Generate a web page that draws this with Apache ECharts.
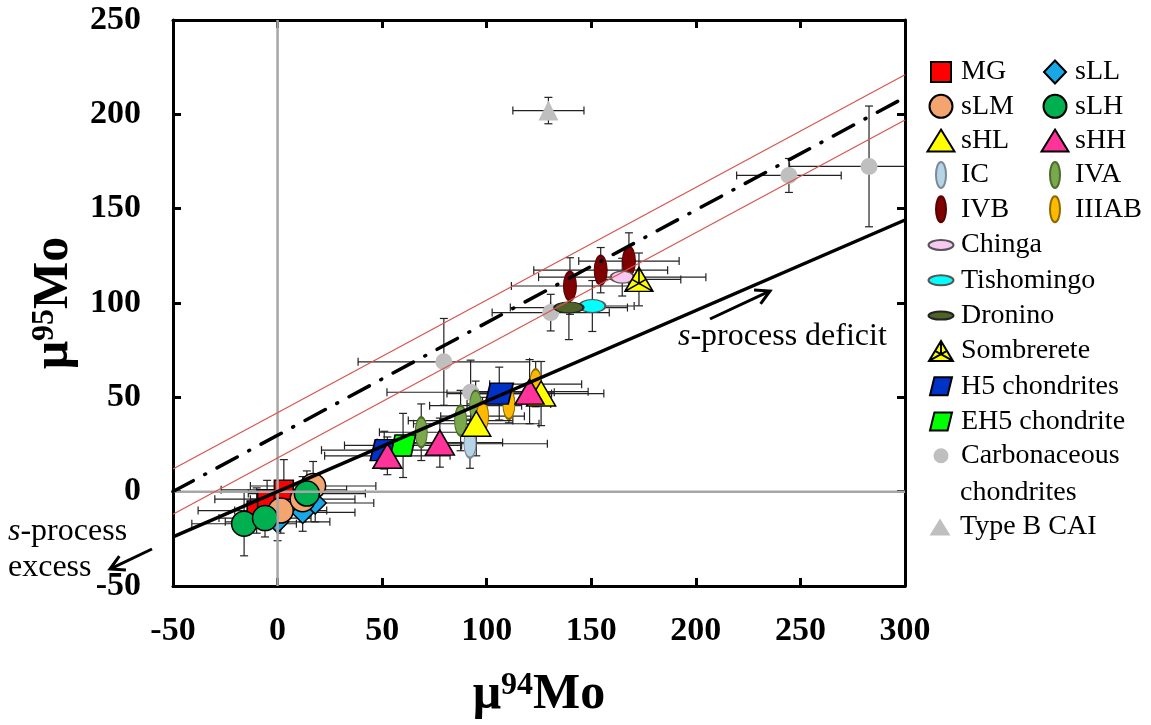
<!DOCTYPE html>
<html>
<head>
<meta charset="utf-8">
<script src="https://cdn.jsdelivr.net/npm/echarts@6/dist/echarts.min.js"></script>
<style>
  html, body { margin: 0; padding: 0; background: #fff; }
  #chart { width: 1151px; height: 725px; }
</style>
</head>
<body>
<div id="chart"></div>
<script>
// Each point: [μ94Mo, μ95Mo, ± error in μ94Mo, ± error in μ95Mo]
const MG          = [[-10, -10, 28, 12], [-5, -4, 25, 10], [3, 1, 30, 16]];
const sLL         = [[0, -16, 25, 10], [12, -11, 25, 10], [18, -6, 28, 10]];
const sLM         = [[1.5, -10, 22, 12], [12, -4, 25, 12], [17, 3, 30, 13]];
const sLH         = [[-16, -17, 25, 17], [-6, -14, 22, 10], [14, -1, 28, 12]];
const sHL         = [[95, 36, 30, 17], [126, 52, 30, 17]];
const sHH         = [[52.5, 19, 30, 10], [77.6, 26, 30, 13], [120.5, 53, 28, 17]];
const IC          = [[92, 25.4, 37, 13]];
const IVA         = [[68.7, 31.5, 20, 15], [87.5, 37.7, 25, 16], [94.7, 45.6, 22, 13]];
const IVB         = [[139.8, 109, 28, 15], [154.5, 117.4, 32, 12], [168, 122.2, 24, 15]];
const IIIAB       = [[98, 40, 20, 10], [110.6, 46.5, 20, 10], [123.4, 57, 22, 12]];
const Chinga      = [[164.8, 113.7, 40, 10]];
const Tishomingo  = [[150.5, 98.4, 20, 13.5]];
const Dronino     = [[139.3, 97.6, 28, 17]];
const Sombrerete  = [[172.8, 112.5, 20, 14]];
const H5          = [[51, 22, 30, 10], [106, 52, 25, 14]];
const EH5         = [[60, 24.5, 28, 17]];
const Carbonaceous = [[79.5, 68.8, 41, 23], [92.3, 52.7, 40, 17], [130.6, 94.9, 28, 9.7], [244.5, 167.6, 25, 9], [282.8, 172.4, 38, 32]];
const TypeBCAI    = [[129.5, 202, 17, 7]];

// Reference lines as [slope, intercept]
const sProcessLine = [0.48, 0];
const meteoriteTrend = [0.597, 29.9];
const trendEnvelope = [12, -12];
const xRange = [-50, 300];
const yRange = [-50, 250];
const tickStep = 50;

const FONT = "'Liberation Serif', 'Times New Roman', serif";

// Symbol paths
const PARALLELOGRAM = 'path://M18,0L100,0L82,100L0,100Z';
const SOMBRERETE = 'path://M50,0L100,100L0,100Z M25,50L100,100 M75,50L0,100 M50,0L50,66.7';

// Legend icons drawn inside a padded 300x300 box (10 units per pixel)
function legendIcon(shape, w, h) {
  const c = 150, a = w * 5, b = h * 5;
  let p = '';
  if (shape === 'rect') {
    p = `M${c - a},${c - b}L${c + a},${c - b}L${c + a},${c + b}L${c - a},${c + b}Z`;
  } else if (shape === 'diamond') {
    p = `M${c},${c - b}L${c + a},${c}L${c},${c + b}L${c - a},${c}Z`;
  } else if (shape === 'triangle') {
    p = `M${c},${c - b}L${c + a},${c + b}L${c - a},${c + b}Z`;
  } else if (shape === 'ellipse') {
    p = `M${c - a},${c}A${a},${b} 0 1 0 ${c + a},${c}A${a},${b} 0 1 0 ${c - a},${c}Z`;
  } else if (shape === 'para') {
    const s = 0.2 * 2 * a;
    p = `M${c - a + s},${c - b}L${c + a},${c - b}L${c + a - s},${c + b}L${c - a},${c + b}Z`;
  } else if (shape === 'sombrerete') {
    p = `M${c},${c - b}L${c + a},${c + b}L${c - a},${c + b}Z` +
        `M${c - a / 2},${c}L${c + a},${c + b}M${c + a / 2},${c}L${c - a},${c + b}` +
        `M${c},${c - b}L${c},${c + b / 3}`;
  }
  return 'path://M0,0M300,300' + p;
}

const groups = [
  { name: 'Carbonaceous chondrites', data: Carbonaceous, symbol: 'circle', size: 17, color: '#bfbfbf', border: null, icon: legendIcon('ellipse', 15, 15) },
  { name: 'Type B CAI', data: TypeBCAI, symbol: 'triangle', size: [20, 20], color: '#bfbfbf', border: null, icon: legendIcon('triangle', 21, 17) },
  { name: 'IC', data: IC, symbol: 'circle', size: [12, 28], color: '#b7d3e6', border: '#7a8a99', icon: legendIcon('ellipse', 10, 26) },
  { name: 'IVA', data: IVA, symbol: 'circle', size: [12, 30], color: '#79a94a', border: '#4e6b2e', icon: legendIcon('ellipse', 10, 26) },
  { name: 'IVB', data: IVB, symbol: 'circle', size: [13, 29], color: '#7f0000', border: '#5a0000', icon: legendIcon('ellipse', 10, 26) },
  { name: 'IIIAB', data: IIIAB, symbol: 'circle', size: [12, 30], color: '#ffb900', border: '#8a6a00', icon: legendIcon('ellipse', 10, 26) },
  { name: 'Chinga', data: Chinga, symbol: 'circle', size: [23, 12], color: '#f9c8f0', border: '#555', icon: legendIcon('ellipse', 25, 10) },
  { name: 'Tishomingo', data: Tishomingo, symbol: 'circle', size: [26, 13], color: '#00ffff', border: '#555', icon: legendIcon('ellipse', 25, 10) },
  { name: 'Dronino', data: Dronino, symbol: 'circle', size: [29, 11], color: '#4f6228', border: '#222', icon: legendIcon('ellipse', 25, 8) },
  { name: 'Sombrerete', data: Sombrerete, symbol: SOMBRERETE, size: [28, 24], color: '#ffff00', border: '#000', icon: legendIcon('sombrerete', 24, 20) },
  { name: 'H5 chondrites', data: H5, symbol: PARALLELOGRAM, size: [28, 21], color: '#0032c8', border: '#000', icon: legendIcon('para', 22, 18) },
  { name: 'EH5 chondrite', data: EH5, symbol: PARALLELOGRAM, size: [25, 21], color: '#00ff00', border: '#000', icon: legendIcon('para', 22, 18) },
  { name: 'MG', data: MG, symbol: 'rect', size: [19, 19], color: '#ff0000', border: '#000', icon: legendIcon('rect', 20, 20) },
  { name: 'sLL', data: sLL, symbol: 'diamond', size: [22, 22], color: '#1aa7e8', border: '#000', icon: legendIcon('diamond', 22, 23) },
  { name: 'sLM', data: sLM, symbol: 'circle', size: 25, color: '#f4a46f', border: '#000', icon: legendIcon('ellipse', 23, 23) },
  { name: 'sLH', data: sLH, symbol: 'circle', size: 25, color: '#00b050', border: '#000', icon: legendIcon('ellipse', 23, 23) },
  { name: 'sHL', data: sHL, symbol: 'triangle', size: [29, 25], color: '#ffff00', border: '#000', icon: legendIcon('triangle', 27, 22) },
  { name: 'sHH', data: sHH, symbol: 'triangle', size: [29, 25], color: '#ff3399', border: '#000', icon: legendIcon('triangle', 27, 22) }
];

const iconOf = {};
groups.forEach(g => { iconOf[g.name] = g.icon; });
const legendItems = names => names.map(n => ({ name: n, icon: iconOf[n] }));

const lineData = ([m, b]) => xRange.map(x => [x, m * x + b]);

const errorData = groups.reduce((acc, g) => acc.concat(g.data), []);

const baseLegend = {
  orient: 'vertical',
  itemWidth: 30,
  itemHeight: 30,
  padding: 0,
  selectedMode: false,
  symbolKeepAspect: true,
  textStyle: { fontFamily: FONT, fontSize: 28, color: '#000' }
};

function arrow(x1, y1, x2, y2, head) {
  const len = Math.hypot(x2 - x1, y2 - y1);
  const dx = (x2 - x1) / len, dy = (y2 - y1) / len;
  const nx = -dy, ny = dx;
  const bx = x2 - head * dx, by = y2 - head * dy;
  const w = head * 0.55;
  const st = { stroke: '#000', lineWidth: 3, fill: null, lineCap: 'butt', lineJoin: 'miter' };
  return [
    { type: 'line', shape: { x1: x1, y1: y1, x2: x2 - dx, y2: y2 - dy }, style: st },
    { type: 'polyline', shape: { points: [[bx + w * nx, by + w * ny], [x2, y2], [bx - w * nx, by - w * ny]] }, style: st }
  ];
}

const richItalic = {
  i: { fontFamily: FONT, fontSize: 32, fontStyle: 'italic', color: '#000' },
  n: { fontFamily: FONT, fontSize: 32, color: '#000' }
};

const titleRich = {
  m: { fontFamily: FONT, fontWeight: 'bold', fontSize: 50, color: '#000' },
  s: { fontFamily: FONT, fontWeight: 'bold', fontSize: 32, color: '#000', verticalAlign: 'top' }
};

const axisCommon = {
  type: 'value',
  axisLine: { show: true, onZero: false, lineStyle: { color: '#000', width: 3 } },
  axisTick: { show: true, inside: true, length: 8, lineStyle: { color: '#000', width: 3 } },
  splitLine: { show: false }
};

const chart = echarts.init(document.getElementById('chart'), null, { renderer: 'canvas' });

const option = {
  animation: false,
  backgroundColor: '#fff',
  grid: { left: 173, right: 246, top: 20, bottom: 137, containLabel: false },
  xAxis: [
    Object.assign({}, axisCommon, {
      position: 'bottom', min: xRange[0], max: xRange[1], interval: tickStep,
      axisLabel: { fontFamily: FONT, fontWeight: 'bold', fontSize: 34, color: '#000', margin: 28 },
      name: '{m|μ}{s|94}{m|Mo}', nameLocation: 'middle', nameGap: 84,
      nameTextStyle: { rich: titleRich }
    }),
    Object.assign({}, axisCommon, {
      position: 'top', min: xRange[0], max: xRange[1], interval: tickStep,
      axisLabel: { show: false }
    })
  ],
  yAxis: [
    Object.assign({}, axisCommon, {
      position: 'left', min: yRange[0], max: yRange[1], interval: tickStep,
      axisLabel: { fontFamily: FONT, fontWeight: 'bold', fontSize: 34, color: '#000', margin: 32 },
      name: '{m|μ}{s|95}{m|Mo}', nameLocation: 'middle', nameGap: 88, nameRotate: 90,
      nameTextStyle: { rich: titleRich }
    }),
    Object.assign({}, axisCommon, {
      position: 'right', min: yRange[0], max: yRange[1], interval: tickStep,
      axisLabel: { show: false }
    })
  ],
  legend: [
    Object.assign({}, baseLegend, { left: 925, top: 56, itemGap: 2.3, data: legendItems(['MG', 'sLM', 'sHL', 'IC', 'IVB']) }),
    Object.assign({}, baseLegend, { left: 1039, top: 56, itemGap: 2.3, data: legendItems(['sLL', 'sLH', 'sHH', 'IVA', 'IIIAB']) }),
    Object.assign({}, baseLegend, {
      left: 925, top: 229, itemGap: 3.3,
      data: legendItems(['Chinga', 'Tishomingo', 'Dronino', 'Sombrerete', 'H5 chondrites', 'EH5 chondrite', 'Carbonaceous chondrites']),
      formatter: n => (n === 'Carbonaceous chondrites' ? 'Carbonaceous' : n)
    }),
    Object.assign({}, baseLegend, { left: 925, top: 512, data: legendItems(['Type B CAI']) })
  ],
  graphic: [
    { type: 'text', x: 960, y: 493, style: { text: 'chondrites', fontFamily: FONT, fontSize: 28, fill: '#000', verticalAlign: 'middle' } },
    { type: 'text', x: 678, y: 337, style: { text: '{i|s}{n|-process deficit}', rich: richItalic, verticalAlign: 'middle' } },
    { type: 'text', x: 8, y: 532, style: { text: '{i|s}{n|-process}', rich: richItalic, verticalAlign: 'middle' } },
    { type: 'text', x: 8, y: 568, style: { text: '{n|excess}', rich: richItalic, verticalAlign: 'middle' } },
    { type: 'group', children: arrow(710, 319, 770, 291, 14) },
    { type: 'group', children: arrow(152, 549, 110, 569, 14) }
  ],
  series: [
    { type: 'line', name: 'zero-x', data: [[0, yRange[0]], [0, yRange[1]]], symbol: 'none', silent: true,
      lineStyle: { color: '#a6a6a6', width: 2.5 } },
    { type: 'line', name: 'zero-y', data: [[xRange[0], 0], [xRange[1], 0]], symbol: 'none', silent: true,
      lineStyle: { color: '#a6a6a6', width: 2.5 } },
    { type: 'line', name: 'envelope-upper', data: lineData([meteoriteTrend[0], meteoriteTrend[1] + trendEnvelope[0]]), symbol: 'none', silent: true,
      lineStyle: { color: '#d9534f', width: 1.2 } },
    { type: 'line', name: 'envelope-lower', data: lineData([meteoriteTrend[0], meteoriteTrend[1] + trendEnvelope[1]]), symbol: 'none', silent: true,
      lineStyle: { color: '#d9534f', width: 1.2 } },
    { type: 'line', name: 'trend', data: lineData(meteoriteTrend), symbol: 'none', silent: true,
      lineStyle: { color: '#000', width: 3.5, type: [23, 13, 1, 13], cap: 'round' } },
    { type: 'line', name: 's-process', data: lineData(sProcessLine), symbol: 'none', silent: true,
      lineStyle: { color: '#000', width: 3.5 } },
    {
      type: 'custom', name: 'error bars', data: errorData, silent: true, clip: true,
      encode: { x: 0, y: 1 },
      renderItem: function (params, api) {
        const x = api.value(0), y = api.value(1), ex = api.value(2), ey = api.value(3);
        const l = api.coord([x - ex, y]), r = api.coord([x + ex, y]);
        const t = api.coord([x, y + ey]), b = api.coord([x, y - ey]);
        const cap = 4;
        const st = { stroke: '#222', lineWidth: 1.2, fill: null };
        const seg = (x1, y1, x2, y2) => ({ type: 'line', shape: { x1, y1, x2, y2 }, style: st });
        return {
          type: 'group',
          children: [
            seg(l[0], l[1], r[0], r[1]),
            seg(l[0], l[1] - cap, l[0], l[1] + cap),
            seg(r[0], r[1] - cap, r[0], r[1] + cap),
            seg(t[0], t[1], b[0], b[1]),
            seg(t[0] - cap, t[1], t[0] + cap, t[1]),
            seg(b[0] - cap, b[1], b[0] + cap, b[1])
          ]
        };
      }
    }
  ].concat(groups.map(g => ({
    type: 'scatter',
    name: g.name,
    data: g.data.map(d => [d[0], d[1]]),
    symbol: g.symbol,
    symbolSize: g.size,
    itemStyle: g.border
      ? { color: g.color, borderColor: g.border, borderWidth: 1.5, opacity: 1 }
      : { color: g.color, borderWidth: 0, opacity: 1 }
  })))
};

chart.setOption(option);
</script>
</body>
</html>
